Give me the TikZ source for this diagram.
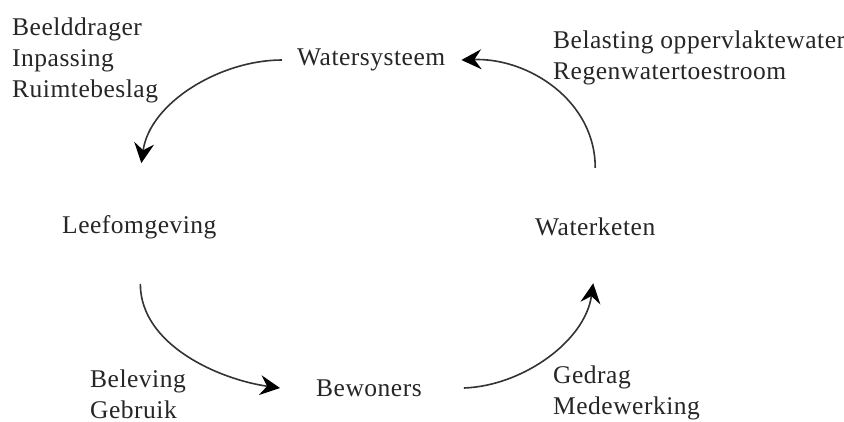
\documentclass[tikz,border=0pt]{standalone}
\usepackage{fontspec}
\setmainfont[LetterSpace=2]{Liberation Serif}
\usetikzlibrary{arrows.meta}
\begin{document}
\begin{tikzpicture}[x=1pt,y=-1pt,
  lbl/.style={anchor=west,inner sep=0pt,font=\fontsize{25.5}{31}\selectfont,text=black!85},
  multi/.style={lbl,align=left},
  flow/.style={line width=1.6pt,draw=black!80,-{Stealth[length=20pt,width=20pt,inset=7pt,color=black]}}]
\useasboundingbox[fill=white] (0,0) rectangle (844,422);
\node[lbl] (ws) at (297,60) {Watersysteem};
\node[lbl] (lo) at (62,227) {Leefomgeving};
\node[lbl] (wk) at (535,227) {Waterketen};
\node[lbl] (bw) at (316,388) {Bewoners};
\node[multi] (t1) at (12,60) {Beelddrager\\Inpassing\\Ruimtebeslag};
\node[multi] (t2) at (553,58) {Belasting oppervlaktewater\\Regenwatertoestroom};
\node[multi] (t3) at (90,394) {Beleving\\Gebruik};
\node[multi] (t4) at (553,393) {Gedrag\\Medewerking};
\draw[flow] ([xshift=-15pt]ws.west) to[out=180,in=82,looseness=0.9] ([xshift=2pt,yshift=52pt]lo.north);
\draw[flow] ([xshift=0pt,yshift=50pt]wk.north) to[out=90,in=2,looseness=1] ([xshift=16pt]ws.east);
\draw[flow] ([xshift=1pt,yshift=-45pt]lo.south) to[out=-90,in=172,looseness=0.9] ([xshift=-36pt]bw.west);
\draw[flow] ([xshift=42pt]bw.east) to[out=2,in=-98,looseness=0.9] ([xshift=-2pt,yshift=-47pt]wk.south);
\end{tikzpicture}
\end{document}
